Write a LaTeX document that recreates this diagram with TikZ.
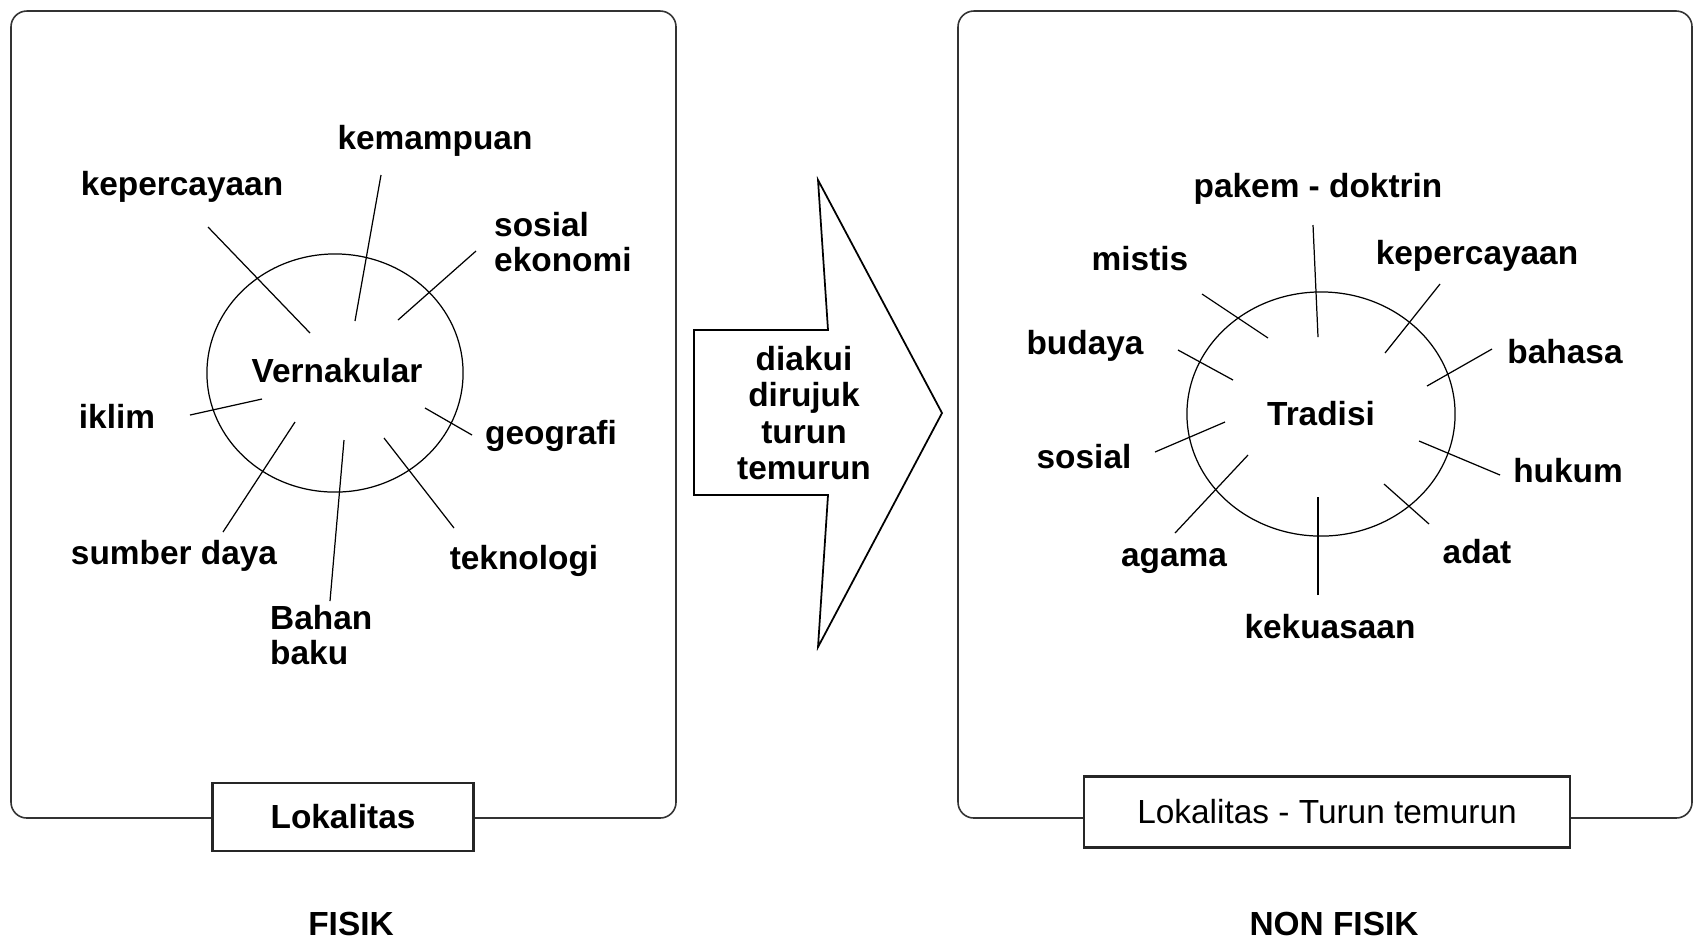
\documentclass[tikz,border=0pt]{standalone}
\usepackage{fontspec}
\setmainfont{Liberation Sans}
\usepackage{tikz}
\usetikzlibrary{shapes.geometric}

\tikzset{
  lbl/.style={font=\fontsize{9.5}{10}\selectfont\bfseries, inner sep=1pt},
  spoke/.style={line width=0.35pt},
  frame/.style={draw=black!80, line width=0.45pt, rounded corners=4.5pt},
  tag/.style={draw=black!85, line width=0.7pt, fill=white, inner sep=0pt},
  hub/.style={draw, ellipse, line width=0.35pt, inner sep=0pt, font=\fontsize{9.5}{10}\selectfont\bfseries}
}

\begin{document}
\begin{tikzpicture}[x=0.01cm,y=-0.01cm]
\useasboundingbox (0,0) rectangle (1695,938);

% frames
\draw[frame] (11,11) rectangle (676,818);
\draw[frame] (958,11) rectangle (1692,818);

% fisik side
\node[hub, minimum width=2.56cm, minimum height=2.38cm] (vern) at (335,373) {};
\node[lbl] (vernl) at (337,371) {Vernakular};
\node[lbl] (kepL) at (182,187) {kepercayaan};
\node[lbl] (kemam) at (435,141) {kemampuan};
\node[lbl, align=left, anchor=west] (sosek) at (490,242) {sosial\\ekonomi};
\node[lbl] (iklim) at (117,416) {iklim};
\node[lbl] (geo) at (551,436) {geografi};
\node[lbl] (sumber) at (174,556) {sumber daya};
\node[lbl, align=left, anchor=west] (bahan) at (266,635) {Bahan\\baku};
\node[lbl] (tekno) at (524,561) {teknologi};

\coordinate (kepLa) at (208,227); \coordinate (kepLb) at (310,333);
\coordinate (kemama) at (381,175); \coordinate (kemamb) at (355,321);
\coordinate (soseka) at (476,251); \coordinate (sosekb) at (398,320);
\coordinate (iklima) at (190,415); \coordinate (iklimb) at (262,399);
\coordinate (geoa) at (472,435); \coordinate (geob) at (425,408);
\coordinate (sumbera) at (223,532); \coordinate (sumberb) at (295,422);
\coordinate (bahana) at (330,601); \coordinate (bahanb) at (344,440);
\coordinate (teknoa) at (454,528); \coordinate (teknob) at (384,438);

\draw[spoke] (kepLa) -- (kepLb);
\draw[spoke] (kemama) -- (kemamb);
\draw[spoke] (soseka) -- (sosekb);
\draw[spoke] (iklima) -- (iklimb);
\draw[spoke] (geoa) -- (geob);
\draw[spoke] (sumbera) -- (sumberb);
\draw[spoke] (bahana) -- (bahanb);
\draw[spoke] (teknoa) -- (teknob);

\node[tag, minimum width=2.61cm, minimum height=0.68cm, font=\fontsize{9.5}{10}\selectfont\bfseries] (lok) at (343,817) {Lokalitas};
\node[font=\fontsize{9.5}{10}\selectfont\bfseries] (fisik) at (351,924) {FISIK};

% arrow
\draw[line width=0.5pt] (694,330) -- (828,330) -- (818,180) -- (942,413) -- (818,647) -- (828,495) -- (694,495) -- cycle;
\node[lbl, align=center, font=\fontsize{9.5}{10.3}\selectfont\bfseries] (flow) at (804,413) {diakui\\dirujuk\\turun\\temurun};

% non fisik side
\node[hub, minimum width=2.68cm, minimum height=2.44cm] (trad) at (1321,414) {};
\node[lbl] (tradl) at (1321,414) {Tradisi};
\node[lbl] (pakem) at (1318,189) {pakem - doktrin};
\node[lbl] (kepR) at (1477,256) {kepercayaan};
\node[lbl] (mistis) at (1140,259) {mistis};
\node[lbl] (budaya) at (1085,346) {budaya};
\node[lbl] (bahasa) at (1565,352) {bahasa};
\node[lbl] (sosial) at (1084,457) {sosial};
\node[lbl] (hukum) at (1568,471) {hukum};
\node[lbl] (agama) at (1174,561) {agama};
\node[lbl] (adat) at (1477,552) {adat};
\node[lbl] (kuasa) at (1330,627) {kekuasaan};

\coordinate (pakema) at (1313,225); \coordinate (pakemb) at (1318,337);
\coordinate (kepRa) at (1440,284); \coordinate (kepRb) at (1385,353);
\coordinate (mistisa) at (1202,294); \coordinate (mistisb) at (1268,338);
\coordinate (budayaa) at (1178,350); \coordinate (budayab) at (1233,380);
\coordinate (bahasaa) at (1492,349); \coordinate (bahasab) at (1427,386);
\coordinate (sosiala) at (1155,452); \coordinate (sosialb) at (1225,422);
\coordinate (hukuma) at (1500,475); \coordinate (hukumb) at (1419,441);
\coordinate (agamaa) at (1175,533); \coordinate (agamab) at (1248,455);
\coordinate (adata) at (1429,524); \coordinate (adatb) at (1384,484);
\coordinate (kuasaa) at (1318,595); \coordinate (kuasab) at (1318,497);

\draw[spoke] (pakema) -- (pakemb);
\draw[spoke] (kepRa) -- (kepRb);
\draw[spoke] (mistisa) -- (mistisb);
\draw[spoke] (budayaa) -- (budayab);
\draw[spoke] (bahasaa) -- (bahasab);
\draw[spoke] (sosiala) -- (sosialb);
\draw[spoke] (hukuma) -- (hukumb);
\draw[spoke] (agamaa) -- (agamab);
\draw[spoke] (adata) -- (adatb);
\draw[spoke] (kuasaa) -- (kuasab);

\node[tag, minimum width=4.86cm, minimum height=0.71cm, font=\fontsize{9.5}{10}\selectfont] (lokturun) at (1327,812) {Lokalitas - Turun temurun};
\node[font=\fontsize{9.5}{10}\selectfont\bfseries] (nonfisik) at (1334,924) {NON FISIK};
\end{tikzpicture}
\end{document}
